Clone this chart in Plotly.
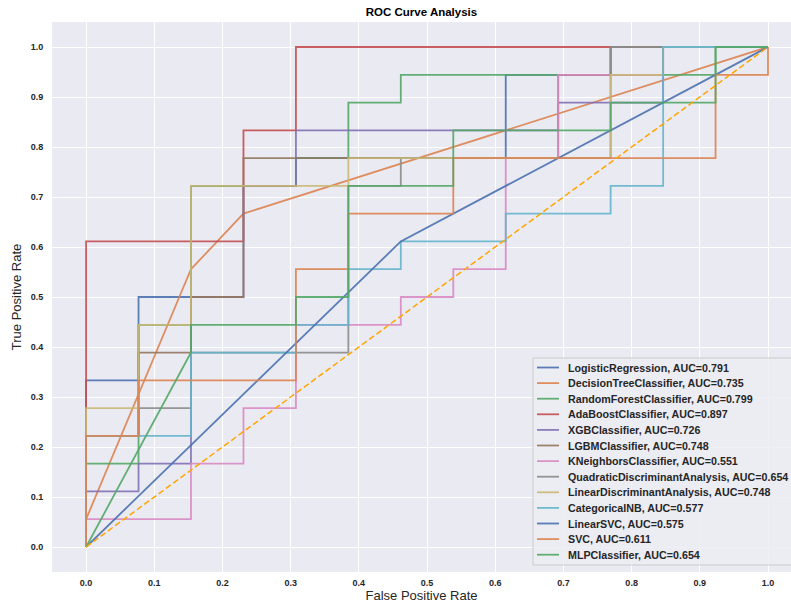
import plotly.graph_objects as go

# Classifier names and their reported AUC scores
models = [
    "LogisticRegression", "DecisionTreeClassifier", "RandomForestClassifier",
    "AdaBoostClassifier", "XGBClassifier", "LGBMClassifier", "KNeighborsClassifier",
    "QuadraticDiscriminantAnalysis", "LinearDiscriminantAnalysis", "CategoricalNB",
    "LinearSVC", "SVC", "MLPClassifier",
]
auc_scores = [0.791, 0.735, 0.799, 0.897, 0.726, 0.748, 0.551,
              0.654, 0.748, 0.577, 0.575, 0.611, 0.654]

# ROC points (false positive rate / true positive rate) per classifier
fpr_logreg = [0, 0, .0769, .0769, .1538, .1538, .3077, .3077, .6154, .6154, .7692, .7692, 1]
tpr_logreg = [0, .3333, .3333, .5, .5, .7222, .7222, .7778, .7778, .9444, .9444, 1, 1]

fpr_tree = [0, 0, .1538, .2308, 1]
tpr_tree = [0, .0556, .5556, .6667, 1]

fpr_forest = [0, 0, .0769, .0769, .1538, .1538, .3077, .3077, .3846, .3846, .4615, .4615, .9231, .9231, 1]
tpr_forest = [0, .1667, .1667, .4444, .4444, .7222, .7222, .7778, .7778, .8889, .8889, .9444, .9444, 1, 1]

fpr_ada = [0, 0, .2308, .2308, .3077, .3077, 1]
tpr_ada = [0, .6111, .6111, .8333, .8333, 1, 1]

fpr_xgb = [0, 0, .0769, .0769, .1538, .1538, .2308, .2308, .3077, .3077, .6923, .6923, .8462, .8462, 1]
tpr_xgb = [0, .1111, .1111, .1667, .1667, .5, .5, .7222, .7222, .8333, .8333, .8889, .8889, 1, 1]

fpr_lgbm = [0, 0, .0769, .0769, .1538, .1538, .2308, .2308, .6923, .6923, .7692, .7692, 1]
tpr_lgbm = [0, .2222, .2222, .3889, .3889, .5, .5, .7778, .7778, .9444, .9444, 1, 1]

fpr_knn = [0, 0, .1538, .1538, .2308, .2308, .3077, .3077, .4615, .4615, .5385, .5385,
           .6154, .6154, .6923, .6923, .8462, .8462, 1]
tpr_knn = [0, .0556, .0556, .1667, .1667, .2778, .2778, .4444, .4444, .5, .5, .5556,
           .5556, .7778, .7778, .9444, .9444, 1, 1]

fpr_qda = [0, 0, .0769, .0769, .1538, .1538, .3846, .3846, .4615, .4615, .7692, .7692, 1]
tpr_qda = [0, .2222, .2222, .2778, .2778, .3889, .3889, .7222, .7222, .7778, .7778, 1, 1]

fpr_lda = [0, 0, .0769, .0769, .1538, .1538, .3846, .3846, .7692, .7692, .8462, .8462, 1]
tpr_lda = [0, .2778, .2778, .4444, .4444, .7222, .7222, .7778, .7778, .9444, .9444, 1, 1]

fpr_catnb = [0, 0, .1538, .1538, .3077, .3077, .3846, .3846, .4615, .4615, .6154, .6154,
             .7692, .7692, .8462, .8462, 1]
tpr_catnb = [0, .2222, .2222, .3889, .3889, .4444, .4444, .5556, .5556, .6111, .6111, .6667,
             .6667, .7222, .7222, 1, 1]

fpr_linsvc = [0, .4615, 1]
tpr_linsvc = [0, .6111, 1]

fpr_svc = [0, 0, .0769, .0769, .3077, .3077, .3846, .3846, .5385, .5385, .9231, .9231, 1, 1]
tpr_svc = [0, .2222, .2222, .3333, .3333, .5556, .5556, .6667, .6667, .7778, .7778, .9444, .9444, 1]

fpr_mlp = [0, .1538, .1538, .3077, .3077, .3846, .3846, .5385, .5385, .7692, .7692, .9231, .9231, 1]
tpr_mlp = [0, .3889, .4444, .4444, .5, .5, .7222, .7222, .8333, .8333, .8889, .8889, 1, 1]

fpr_list = [fpr_logreg, fpr_tree, fpr_forest, fpr_ada, fpr_xgb, fpr_lgbm, fpr_knn,
            fpr_qda, fpr_lda, fpr_catnb, fpr_linsvc, fpr_svc, fpr_mlp]
tpr_list = [tpr_logreg, tpr_tree, tpr_forest, tpr_ada, tpr_xgb, tpr_lgbm, tpr_knn,
            tpr_qda, tpr_lda, tpr_catnb, tpr_linsvc, tpr_svc, tpr_mlp]

axis_ticks = [0.0, 0.1, 0.2, 0.3, 0.4, 0.5, 0.6, 0.7, 0.8, 0.9, 1.0]
tick_labels = ["0.0", "0.1", "0.2", "0.3", "0.4", "0.5", "0.6", "0.7", "0.8", "0.9", "1.0"]

# seaborn "deep" palette, cycling after ten colours
palette = ["#4C72B0", "#DD8452", "#55A868", "#C44E52", "#8172B3",
           "#937860", "#DA8BC3", "#8C8C8C", "#CCB974", "#64B5CD"]
colors = [palette[i % len(palette)] for i in range(len(models))]

W, H = 791, 606
M_L, M_R, M_T, M_B = 52, 0, 22, 34
FONT = "Liberation Sans, Arial, sans-serif"
TXT = "#262626"

fig = go.Figure()
for name, fpr, tpr, col in zip(models, fpr_list, tpr_list, colors):
    fig.add_trace(go.Scatter(
        x=fpr, y=tpr, mode="lines", name=name,
        line=dict(color=col, width=1.8), opacity=0.9,
        showlegend=False, hoverinfo="skip",
    ))

# chance line
fig.add_trace(go.Scatter(
    x=[0, 1], y=[0, 1], mode="lines",
    line=dict(color="orange", width=1.5, dash="6px,3px"),
    showlegend=False, hoverinfo="skip",
))

# pixel -> paper helpers for the legend box
pw = W - M_L - M_R
ph = H - M_T - M_B
def px(xp):
    return (xp - M_L) / pw
def py(yp):
    return (H - M_B - yp) / ph

# legend frame
fig.add_shape(type="rect", xref="paper", yref="paper",
              x0=px(533), x1=px(805), y0=py(565), y1=py(358),
              fillcolor="rgba(236,236,243,0.85)", line=dict(color="#CCCCCC", width=1),
              layer="above")

row0, step = 367.5, 15.6
for i, (name, auc, col) in enumerate(zip(models, auc_scores, colors)):
    yy = py(row0 + i * step)
    fig.add_shape(type="line", xref="paper", yref="paper",
                  x0=px(537), x1=px(559), y0=yy, y1=yy,
                  line=dict(color=col, width=1.8), opacity=0.9, layer="above")
    fig.add_annotation(xref="paper", yref="paper", x=px(566), y=yy,
                       text=f"<b>{name}, AUC={auc:.3f}</b>", showarrow=False,
                       xanchor="left", yanchor="middle",
                       font=dict(family=FONT, size=10.7, color=TXT))

fig.update_layout(
    width=W, height=H,
    margin=dict(l=M_L, r=M_R, t=M_T, b=M_B),
    paper_bgcolor="white", plot_bgcolor="#EAEAF2",
    title=dict(text="<b>ROC Curve Analysis</b>", x=0.5, xref="paper", xanchor="center",
               y=1 - 12 / H, yref="container", yanchor="middle",
               font=dict(family=FONT, size=11.5, color="black")),
)
fig.update_xaxes(
    range=[-0.05, 1 + (W - M_R - 768) / 682], tickvals=axis_ticks, ticktext=tick_labels,
    showgrid=True, gridcolor="white", gridwidth=1, zeroline=False, showline=False,
    ticks="outside", ticklen=2, tickcolor="rgba(0,0,0,0)",
    tickfont=dict(family=FONT, size=9, color=TXT, weight="bold"),
    title=dict(text="False Positive Rate", standoff=2,
               font=dict(family=FONT, size=13, color=TXT)),
)
fig.update_yaxes(
    range=[-0.05, 1.05], tickvals=axis_ticks, ticktext=tick_labels,
    showgrid=True, gridcolor="white", gridwidth=1, zeroline=False, showline=False,
    ticks="outside", ticklen=6, tickcolor="rgba(0,0,0,0)",
    tickfont=dict(family=FONT, size=9, color=TXT, weight="bold"),
    title=dict(text="True Positive Rate", standoff=6,
               font=dict(family=FONT, size=13, color=TXT)),
)

fig.write_html("out.html")
